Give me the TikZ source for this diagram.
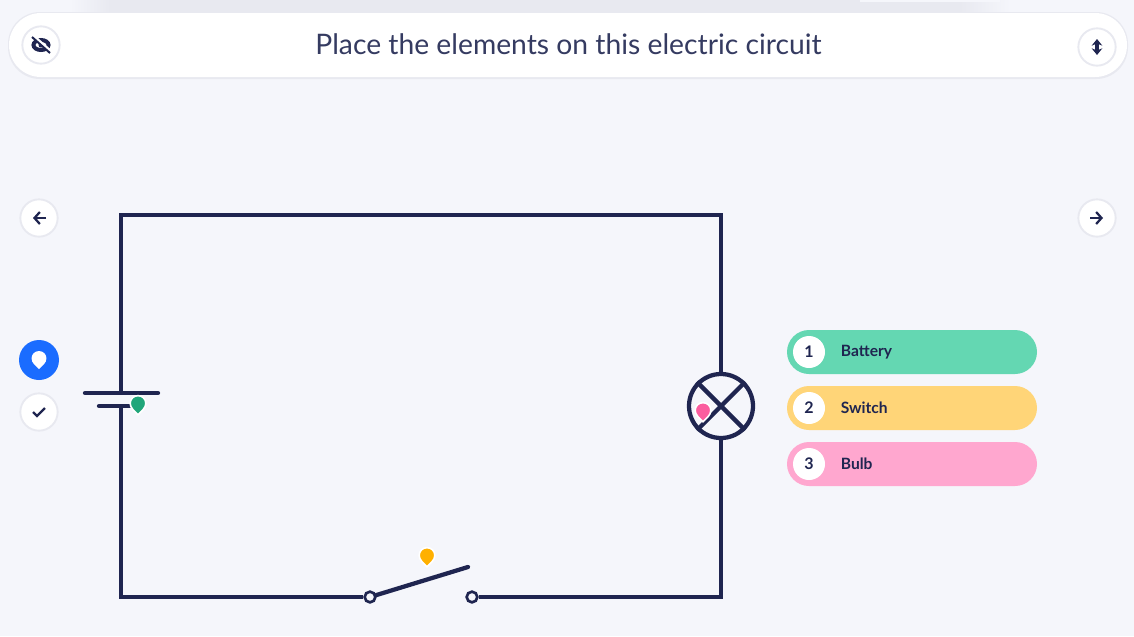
\documentclass[tikz,border=0pt]{standalone}
\usepackage{fontspec}
\setmainfont{Lato}
\usetikzlibrary{positioning,arrows.meta,shapes.misc}
\definecolor{navy}{HTML}{1F2550}
\definecolor{paper}{HTML}{F5F6FB}
\definecolor{ringgray}{HTML}{E8E9F0}
\definecolor{batterygreen}{HTML}{64D7B2}
\definecolor{switchyellow}{HTML}{FFD578}
\definecolor{bulbpink}{HTML}{FFA7CF}
\definecolor{pingreen}{HTML}{21A67A}
\definecolor{pinyellow}{HTML}{FFB000}
\definecolor{pinpink}{HTML}{FB5D9F}
\definecolor{pinblue}{HTML}{1A6CFF}
\tikzset{
  wire/.style={draw=navy, line width=3.2pt, line cap=round, line join=miter},
  roundbtn/.style={circle, draw=ringgray, line width=1.4pt, fill=white, minimum size=28pt, inner sep=0pt},
  terminal/.style={circle, draw=navy, line width=2pt, fill=paper, minimum size=8pt, inner sep=0pt},
  pill/.style={rounded rectangle, minimum width=187.5pt, minimum height=33pt, inner sep=0pt},
  numdisc/.style={circle, fill=white, minimum size=24pt, inner sep=0pt, text=navy, font=\fontsize{12}{12}\selectfont\bfseries},
  pilltext/.style={text=navy, font=\fontsize{11.7}{12}\selectfont\bfseries, inner sep=0pt},
  iconline/.style={navy, line width=1.7pt}
}
\newcommand{\dropmark}[3]{
  \filldraw[shift={(#1)}, scale=#3, fill=#2, draw=white, line width=1.2pt]
    (-7,0) .. controls (-7,-4) and (-4,-7) .. (0,-7)
    .. controls (4,-7) and (7,-4) .. (7,0)
    .. controls (7,4) and (3,7) .. (0,10)
    .. controls (-3,7) and (-7,4) .. (-7,0) -- cycle;
}
\begin{document}
\begin{tikzpicture}[x=0.75pt, y=-0.75pt]
    \useasboundingbox (0,0) rectangle (1134,636);
    \fill[paper] (0,0) rectangle (1134,636);

    % Faixa do topo
    \shade[left color=paper, right color=ringgray] (70,0) rectangle (110,12);
    \fill[ringgray] (110,0) rectangle (960,12);
    \shade[left color=ringgray, right color=paper] (960,0) rectangle (1010,12);
    \fill[paper] (860,0) rectangle (1000,1.5);
    \fill[ringgray, rounded corners=24pt] (8,12) rectangle (1128,79);
    \node[rounded rectangle, fill=white, minimum width=838.5pt, minimum height=48pt, inner sep=0pt] (header) at (568,45) {};
    \node[text=navy!90!white, font=\fontsize{21.2}{24}\selectfont, inner sep=0pt] (title) at (568.5,44.5) {Place the elements on this electric circuit};

    % Botoes
    \node[roundbtn] (eyebtn) at (41,45) {};
    \node[roundbtn] (sizebtn) at (1097,47) {};
    \node[roundbtn] (backbtn) at (39,218) {};
    \node[roundbtn] (nextbtn) at (1097,218) {};
    \node[circle, fill=pinblue, minimum size=30pt, inner sep=0pt] (pinbtn) at (39,360) {};
    \node[roundbtn] (checkbtn) at (39,412) {};

    % Icones
    \draw[navy, line width=3pt] (41,45) ellipse (7.5 and 5);
    \fill[navy] (41,45) circle (2.5);
    \draw[draw=white, line width=2pt] (32,34.5) -- (50,50.5);
    \draw[iconline, line width=1.5pt] (32,37) -- (50,53);
    \draw[navy, line width=2.8pt, {Stealth[length=5pt,width=8pt]}-{Stealth[length=5pt,width=8pt]}] (1097,39) -- (1097,55);
    \draw[iconline, -{Straight Barb[length=4pt,width=9pt]}] (46,218) -- (33,218);
    \draw[iconline, -{Straight Barb[length=4pt,width=9pt]}] (1090,218) -- (1103,218);
    \draw[iconline, line join=miter] (33,412) -- (37,416) -- (45,408);
    \dropmark{39,358.5}{white}{0.95}

    % Circuito
    \coordinate (topleft) at (121,215);
    \coordinate (topright) at (721,215);
    \coordinate (botright) at (721,597);
    \coordinate (botleft) at (121,597);
    \coordinate (platetop) at (121,393);
    \coordinate (platebot) at (121,406);
    \coordinate (platetopL) at (85,393);
    \coordinate (platetopR) at (158,393);
    \coordinate (platebotL) at (99,406);
    \coordinate (platebotR) at (140,406);
    \coordinate (bladeend) at (468,567);
    \node[circle, draw=navy, line width=3.2pt, minimum size=48pt, inner sep=0pt] (bulb) at (721,406) {};
    \node[terminal] (switchL) at (370,597) {};
    \node[terminal] (switchR) at (472,597) {};

    \draw[wire, line cap=butt] (platetop) -- (topleft) -- (topright) -- (bulb);
    \draw[wire, line cap=butt] (bulb) -- (botright) -- (switchR);
    \draw[wire, line cap=butt] (switchL) -- (botleft) -- (platebot);
    \draw[wire] (platetopL) -- (platetopR);
    \draw[wire] (platebotL) -- (platebotR);
    \draw[wire] (switchL) -- (bladeend);
    \draw[wire, line cap=butt] (bulb.north west) -- (bulb.south east);
    \draw[wire, line cap=butt] (bulb.north east) -- (bulb.south west);

    % Marcadores
    \dropmark{138,403.5}{pingreen}{1.12}
    \dropmark{703,410.5}{pinpink}{1.12}
    \dropmark{427,555.5}{pinyellow}{1.12}

    % Legenda
    \node[pill, fill=batterygreen] (pill1) at (912,352) {};
    \node[pill, fill=switchyellow] (pill2) at (912,408) {};
    \node[pill, fill=bulbpink] (pill3) at (912,464) {};
    \node[numdisc] (num1) at (809,352) {1};
    \node[numdisc] (num2) at (809,408) {2};
    \node[numdisc] (num3) at (809,464) {3};
    \node[pilltext, right=11.5pt of num1] (label1) {Battery};
    \node[pilltext, right=11.5pt of num2] (label2) {Switch};
    \node[pilltext, right=11.5pt of num3] (label3) {Bulb};
\end{tikzpicture}
\end{document}
